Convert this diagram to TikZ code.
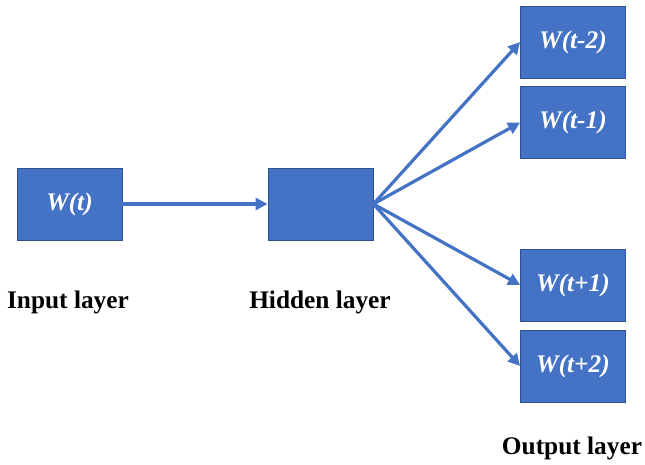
\documentclass[tikz,border=0pt]{standalone}
\usepackage{fontspec}
\setmainfont{Liberation Serif}
\usetikzlibrary{arrows.meta}
\definecolor{boxblue}{HTML}{4472C4}
\definecolor{edgeblue}{HTML}{2F528F}
\begin{document}
\begin{tikzpicture}[x=0.75pt,y=-0.75pt,
    wbox/.style={draw=edgeblue,line width=0.6pt,fill=boxblue,minimum width=78.75pt,minimum height=54pt,inner sep=0pt,text=white,font=\fontsize{19}{22}\selectfont\bfseries\itshape},
    lab/.style={font=\fontsize{19}{22}\selectfont\bfseries},
    link/.style={draw=boxblue,line width=2.4pt,-{Triangle[length=9pt,width=9pt]}}]
    \useasboundingbox (0,0) rectangle (645,464);
    \node[wbox] (in) at (69.5,204) {W(t)};
    \node[wbox] (hid) at (320.5,204) {};
    \foreach \n/\y/\lab in {om2/42/W(t-2),om1/122.5/W(t-1),op1/285/W(t+1),op2/366/W(t+2)}
      \node[wbox] (\n) at (573,\y) {\lab};
    \node[lab] (inl) at (68,302) {Input layer};
    \node[lab] (hidl) at (320,302) {Hidden layer};
    \node[lab] (outl) at (572,448) {Output layer};
    \draw[link] (in) -- (hid);
    \foreach \n in {om2,om1,op1,op2} \draw[link] (hid.east) -- (\n.west);
\end{tikzpicture}
\end{document}
